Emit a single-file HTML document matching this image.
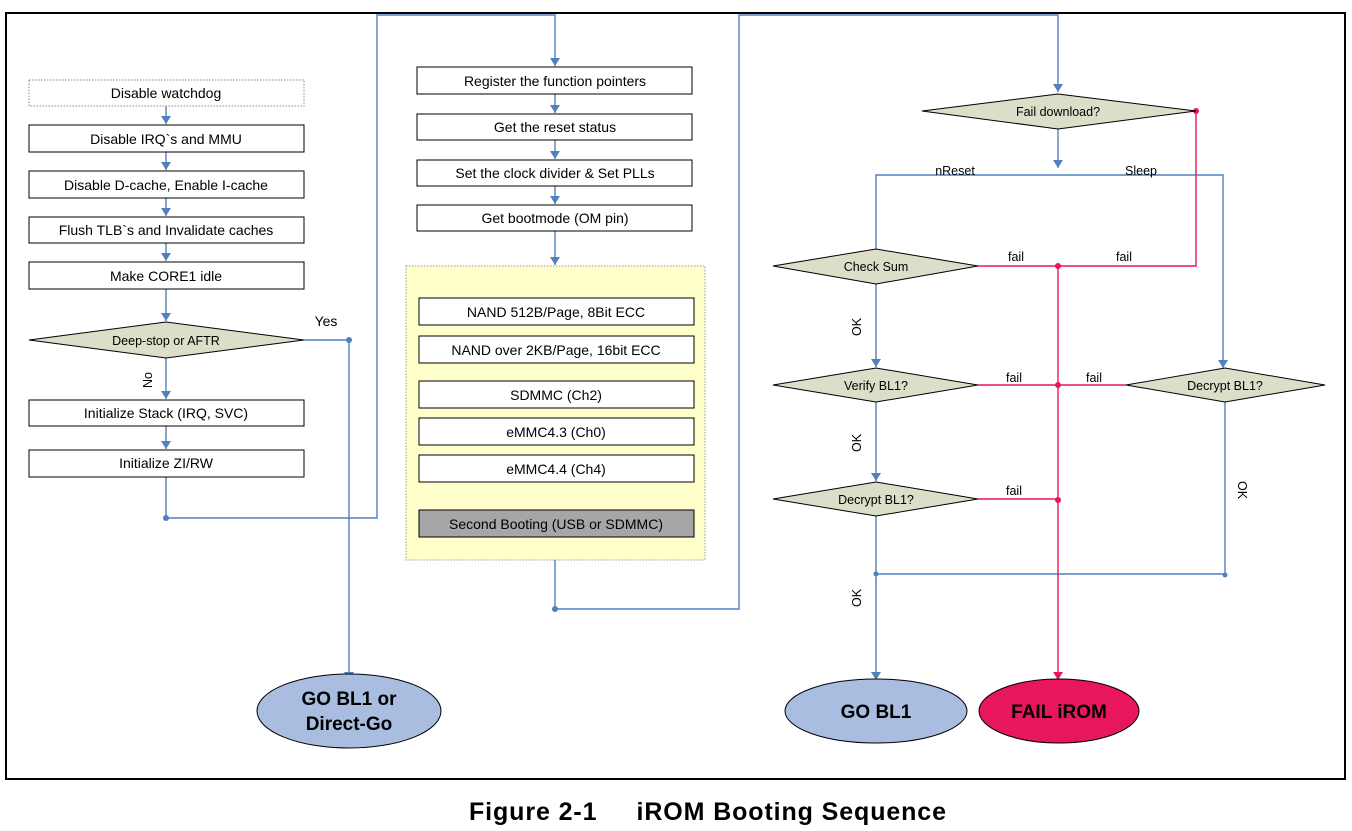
<!DOCTYPE html>
<html><head><meta charset="utf-8"><style>
html,body{margin:0;padding:0;background:#fff;}
svg{display:block;font-family:"Liberation Sans",Arial,sans-serif;}
</style></head><body>
<svg width="1352" height="831" viewBox="0 0 1352 831" xmlns="http://www.w3.org/2000/svg">
<rect x="6" y="13" width="1339" height="766" fill="none" stroke="#000" stroke-width="2"/>

<g stroke="#4f81bd" stroke-width="1.4" fill="none">
<path d="M166 106V124M166 152V170M166 198V216M166 243V261M166 289V321M166 358V399M166 426V449"/>
<path d="M304 340H349V680"/>
<path d="M166 477V518H377V15H555V66"/>
<path d="M555 94V113M555 140V159M555 186V204M555 231V265"/>
<path d="M555 560V609H739V15H1058V92"/>
<path d="M1058 129V168"/>
<path d="M876 258V175H1223V368"/>
<path d="M876 284V367M876 402V481M876 516V680"/>
<path d="M876 574H1225V402"/>
</g>
<g fill="#4f81bd">
<path d="M161 116h10l-5 8z"/><path d="M161 162h10l-5 8z"/><path d="M161 208h10l-5 8z"/><path d="M161 253h10l-5 8z"/><path d="M161 313h10l-5 8z"/><path d="M161 391h10l-5 8z"/><path d="M161 441h10l-5 8z"/>
<path d="M344 672h10l-5 8z"/>
<path d="M550 58h10l-5 8z"/><path d="M550 105h10l-5 8z"/><path d="M550 151h10l-5 8z"/><path d="M550 196h10l-5 8z"/><path d="M550 257h10l-5 8z"/>
<path d="M1053 84h10l-5 8z"/><path d="M1053 160h10l-5 8z"/>
<path d="M871 250h10l-5 8z"/><path d="M871 359h10l-5 8z"/><path d="M871 473h10l-5 8z"/><path d="M871 672h10l-5 8z"/>
<path d="M1218 360h10l-5 8z"/>
<circle cx="349" cy="340" r="3"/><circle cx="166" cy="518" r="3"/><circle cx="555" cy="609" r="3"/><circle cx="876" cy="574" r="2.5"/><circle cx="1225" cy="575" r="2.5"/>
</g>
<g stroke="#e8175d" stroke-width="1.4" fill="none">
<path d="M978 266H1196V111"/>
<path d="M978 385H1126"/>
<path d="M978 499H1058"/>
<path d="M1058 266V680"/>
</g>
<g fill="#e8175d">
<circle cx="1196" cy="111" r="3"/><circle cx="1058" cy="266" r="3"/><circle cx="1058" cy="385" r="3"/><circle cx="1058" cy="500" r="3"/>
<path d="M1053 672h10l-5 8z"/>
</g>

<g stroke="#000" stroke-width="1" fill="#fff">
<rect x="29" y="80" width="275" height="26" stroke="#888" stroke-dasharray="1.5,1.5"/>
<rect x="29" y="125" width="275" height="27"/>
<rect x="29" y="171" width="275" height="27"/>
<rect x="29" y="217" width="275" height="26"/>
<rect x="29" y="262" width="275" height="27"/>
<rect x="29" y="400" width="275" height="26"/>
<rect x="29" y="450" width="275" height="27"/>
<rect x="417" y="67" width="275" height="27"/>
<rect x="417" y="114" width="275" height="26"/>
<rect x="417" y="160" width="275" height="26"/>
<rect x="417" y="205" width="275" height="26"/>
</g>
<rect x="406" y="266" width="299" height="294" fill="#ffffcc" stroke="#999" stroke-dasharray="1.5,1.5"/>
<g stroke="#000" stroke-width="1" fill="#fff">
<rect x="419" y="298" width="275" height="27"/>
<rect x="419" y="336" width="275" height="27"/>
<rect x="419" y="381" width="275" height="27"/>
<rect x="419" y="418" width="275" height="27"/>
<rect x="419" y="455" width="275" height="27"/>
<rect x="419" y="510" width="275" height="27" fill="#a6a6a6"/>
</g>
<g stroke="#000" stroke-width="1" fill="#dcdec9">
<path d="M29 340L166 322L304 340L166 358Z"/>
<path d="M922 111L1058 94L1196 111L1058 129Z"/>
<path d="M773 266L876 249L978 266L876 284Z"/>
<path d="M773 385L876 368L978 385L876 402Z"/>
<path d="M1126 385L1225 368L1325 385L1225 402Z"/>
<path d="M773 499L876 482L978 499L876 516Z"/>
</g>
<ellipse cx="349" cy="711" rx="92" ry="37" fill="#a9bde0" stroke="#000"/>
<ellipse cx="876" cy="711" rx="91" ry="32" fill="#a9bde0" stroke="#000"/>
<ellipse cx="1059" cy="711" rx="80" ry="32" fill="#e8175d" stroke="#000"/>

<g font-size="14" text-anchor="middle" fill="#000">
<text x="166" y="98">Disable watchdog</text>
<text x="166" y="144">Disable IRQ`s and MMU</text>
<text x="166" y="190">Disable D-cache, Enable I-cache</text>
<text x="166" y="235">Flush TLB`s and Invalidate caches</text>
<text x="166" y="281">Make CORE1 idle</text>
<text x="166" y="418">Initialize Stack (IRQ, SVC)</text>
<text x="166" y="468">Initialize ZI/RW</text>
<text x="555" y="86">Register the function pointers</text>
<text x="555" y="132">Get the reset status</text>
<text x="555" y="178">Set the clock divider &amp; Set PLLs</text>
<text x="555" y="223">Get bootmode (OM pin)</text>
<text x="556" y="317">NAND 512B/Page, 8Bit ECC</text>
<text x="556" y="355">NAND over 2KB/Page, 16bit ECC</text>
<text x="556" y="400">SDMMC (Ch2)</text>
<text x="556" y="437">eMMC4.3 (Ch0)</text>
<text x="556" y="474">eMMC4.4 (Ch4)</text>
<text x="556" y="529">Second Booting (USB or SDMMC)</text>
<text x="326" y="326">Yes</text>
</g>
<g font-size="12.5" text-anchor="middle" fill="#000">
<text x="166" y="345">Deep-stop or AFTR</text>
<text x="1058" y="116">Fail download?</text>
<text x="876" y="271">Check Sum</text>
<text x="876" y="390">Verify BL1?</text>
<text x="1225" y="390">Decrypt BL1?</text>
<text x="876" y="504">Decrypt BL1?</text>
<text x="955" y="175">nReset</text>
<text x="1141" y="175">Sleep</text>
<text x="1016" y="261">fail</text>
<text x="1124" y="261">fail</text>
<text x="1014" y="382">fail</text>
<text x="1094" y="382">fail</text>
<text x="1014" y="495">fail</text>
<text transform="translate(152,380) rotate(-90)">No</text>
<text transform="translate(861,327) rotate(-90)">OK</text>
<text transform="translate(861,443) rotate(-90)">OK</text>
<text transform="translate(861,598) rotate(-90)">OK</text>
<text transform="translate(1238,490) rotate(90)">OK</text>
</g>
<g font-size="19" font-weight="bold" text-anchor="middle" fill="#000">
<text x="349" y="705">GO BL1 or</text>
<text x="349" y="730">Direct-Go</text>
<text x="876" y="718">GO BL1</text>
<text x="1059" y="718">FAIL iROM</text>
</g>
<text x="469" y="820" font-size="25" font-weight="bold" fill="#000" textLength="477" lengthAdjust="spacing" xml:space="preserve">Figure 2-1     iROM Booting Sequence</text>
</svg>
</body></html>
